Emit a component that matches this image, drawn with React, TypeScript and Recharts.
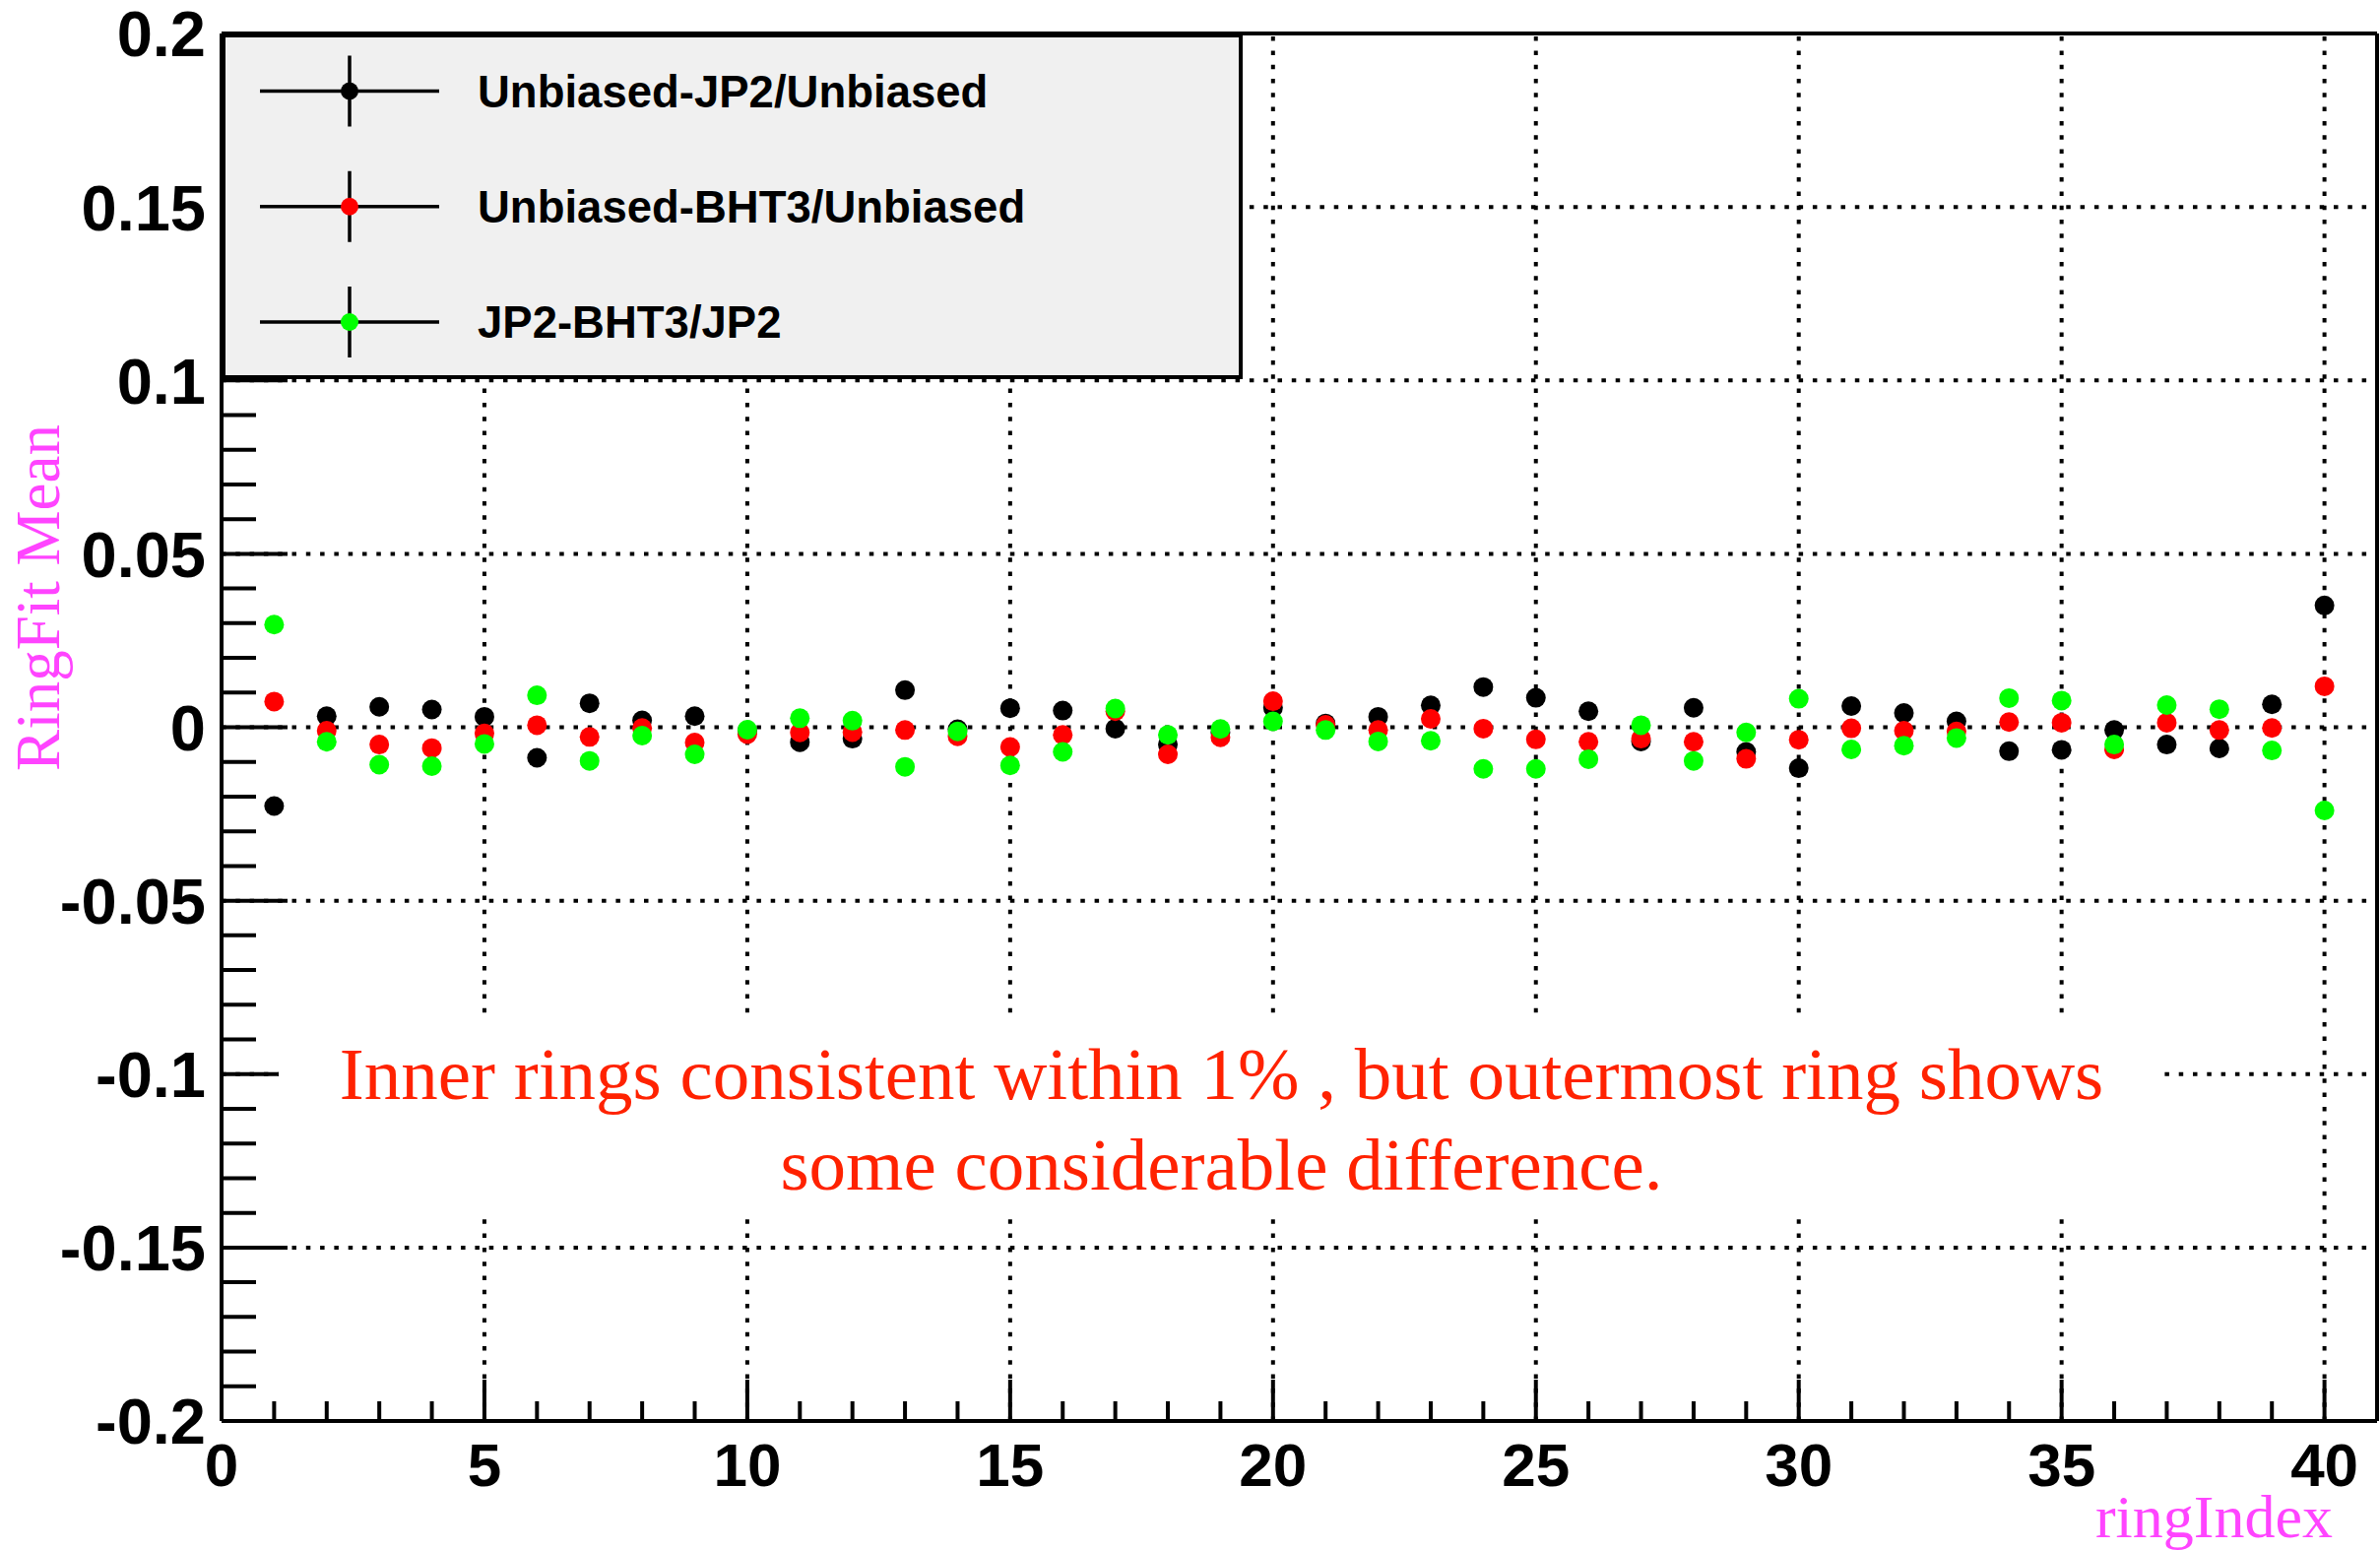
import React from 'react';
import { ScatterChart, Scatter, XAxis, YAxis, ReferenceLine, Legend } from 'recharts';

// ring index (x) and the three RingFit mean differences
const ringIndex = [1, 2, 3, 4, 5, 6, 7, 8, 9, 10, 11, 12, 13, 14, 15, 16, 17, 18, 19, 20, 21, 22, 23, 24, 25, 26, 27, 28, 29, 30, 31, 32, 33, 34, 35, 36, 37, 38, 39, 40];

const unbiasedJP2 = [
  -0.0227, 0.0032, 0.0059, 0.0051, 0.003, -0.0088, 0.0069, 0.002, 0.0032, -0.001,
  -0.0043, -0.0033, 0.0107, -0.0006, 0.0055, 0.0048, -0.0004, -0.005, -0.0015, 0.0056,
  0.0011, 0.003, 0.0063, 0.0116, 0.0085, 0.0046, -0.0041, 0.0056, -0.0071, -0.0118,
  0.0061, 0.0041, 0.0017, -0.0069, -0.0065, -0.0008, -0.005, -0.0061, 0.0066, 0.0351,
];

const unbiasedBHT3 = [
  0.0074, -0.001, -0.005, -0.006, -0.0018, 0.0006, -0.0028, -0.0002, -0.0044, -0.002,
  -0.0015, -0.0014, -0.0008, -0.0026, -0.0057, -0.0022, 0.0046, -0.0078, -0.0029, 0.0075,
  0.0007, -0.0008, 0.0024, -0.0004, -0.0035, -0.0042, -0.0033, -0.0042, -0.0091, -0.0036,
  -0.0003, -0.001, -0.0012, 0.0015, 0.0013, -0.0064, 0.0013, -0.0008, -0.0002, 0.0118,
];

const jp2BHT3 = [
  0.0296, -0.0042, -0.0108, -0.0112, -0.0048, 0.0092, -0.0097, -0.0024, -0.0078, -0.0007,
  0.0026, 0.0019, -0.0114, -0.0012, -0.011, -0.0071, 0.0054, -0.0022, -0.0005, 0.0017,
  -0.0008, -0.0041, -0.0039, -0.012, -0.012, -0.0092, 0.0006, -0.0097, -0.0015, 0.0082,
  -0.0064, -0.0053, -0.0031, 0.0084, 0.0077, -0.005, 0.0064, 0.0052, -0.0067, -0.024,
];

const seriesNames = ['Unbiased-JP2/Unbiased', 'Unbiased-BHT3/Unbiased', 'JP2-BHT3/JP2'];
const seriesColors = ['#000000', '#ff0000', '#00ff00'];

const xTicks = Array.from({ length: 41 }, (_, i) => i);
const xGrid = [5, 10, 15, 20, 25, 30, 35, 40];
const yTicks = Array.from({ length: 41 }, (_, i) => (i - 20) / 100);
const yGrid = [-0.15, -0.1, -0.05, 0, 0.05, 0.1, 0.15];

const annotation = [
  'Inner rings consistent within 1% , but outermost ring shows',
  'some considerable difference.',
];

const toPoints = (vals: number[]) => ringIndex.map((x, i) => ({ x, y: vals[i] }));
const series = [unbiasedJP2, unbiasedBHT3, jp2BHT3].map(toPoints);

const SANS = "'Liberation Sans', Arial, Helvetica, sans-serif";
const SERIF = "'Liberation Serif', 'Times New Roman', serif";
const MAGENTA = '#ff44ff';

function XTick(props: any) {
  const { x, y, payload } = props;
  const v = payload.value;
  const major = v % 5 === 0;
  return (
    <g>
      <line x1={x} x2={x} y1={y} y2={y - (major ? 42 : 20)} stroke="#000" strokeWidth={4} />
      {major && (
        <text x={x} y={y + 66} textAnchor="middle" fontFamily={SANS} fontWeight="bold" fontSize={62} fill="#000">
          {v}
        </text>
      )}
    </g>
  );
}

function YTick(props: any) {
  const { x, y, payload } = props;
  const k = Math.round(payload.value * 100);
  const major = k % 5 === 0;
  return (
    <g>
      <line x1={x} x2={x + (major ? 67 : 35)} y1={y} y2={y} stroke="#000" strokeWidth={4} />
      {major && (
        <text x={x - 16} y={y} dy="0.36em" textAnchor="end" fontFamily={SANS} fontWeight="bold" fontSize={65} fill="#000">
          {k / 100}
        </text>
      )}
    </g>
  );
}

// legend drawn in series order, ROOT style (cross marker + dot)
function LegendBox() {
  return (
    <svg width={1037} height={351} style={{ display: 'block' }}>
      <rect x={2} y={2} width={1033} height={347} fill="#f0f0f0" stroke="#000" strokeWidth={4} />
      {seriesNames.map((name, i) => {
        const cy = 58.5 + i * 117.25;
        return (
          <g key={name}>
            <line x1={39} x2={221} y1={cy} y2={cy} stroke="#000" strokeWidth={3.5} />
            <line x1={130} x2={130} y1={cy - 36} y2={cy + 36} stroke="#000" strokeWidth={3.5} />
            <circle cx={130} cy={cy} r={9} fill={seriesColors[i]} />
            <text x={260} y={cy + 16} fontFamily={SANS} fontWeight="bold" fontSize={45.5} fill="#000">
              {name}
            </text>
          </g>
        );
      })}
    </svg>
  );
}

const dot = (color: string) => (p: any) => <circle cx={p.cx} cy={p.cy} r={10} fill={color} />;

export default function App() {
  return (
    <div style={{ position: 'absolute', left: 0, top: 0, width: 2417, height: 1574, background: '#fff' }}>
      <ScatterChart width={2417} height={1574} margin={{ top: 34, right: 3, left: 25, bottom: 31 }}>
        <XAxis
          type="number"
          dataKey="x"
          domain={[0, 41]}
          ticks={xTicks}
          interval={0}
          tickLine={false}
          tickSize={0}
          tickMargin={0}
          height={100}
          axisLine={{ stroke: '#000', strokeWidth: 4 }}
          tick={(p: any) => <XTick {...p} />}
          label={() => (
            <text x={2369} y={1561} textAnchor="end" fontFamily={SERIF} fontSize={62} fill={MAGENTA}>
              ringIndex
            </text>
          )}
        />
        <YAxis
          type="number"
          dataKey="y"
          domain={[-0.2, 0.2]}
          ticks={yTicks}
          interval={0}
          tickLine={false}
          tickSize={0}
          tickMargin={0}
          width={200}
          axisLine={{ stroke: '#000', strokeWidth: 4 }}
          tick={(p: any) => <YTick {...p} />}
          label={() => (
            <text
              x={60}
              y={607}
              transform="rotate(-90 60 607)"
              textAnchor="middle"
              fontFamily={SERIF}
              fontSize={63}
              fill={MAGENTA}
            >
              RingFit Mean
            </text>
          )}
        />
        {xGrid.map((v) => (
          <ReferenceLine key={'gx' + v} x={v} stroke="#000" strokeWidth={4} strokeDasharray="4.5 9.8" />
        ))}
        {yGrid.map((v) => (
          <ReferenceLine key={'gy' + v} y={v} stroke="#000" strokeWidth={4} strokeDasharray="4.5 9.8" />
        ))}
        <ReferenceLine y={0.2} stroke="#000" strokeWidth={4} />
        <ReferenceLine x={41} stroke="#000" strokeWidth={4} />
        {series.map((pts, i) => (
          <Scatter
            key={seriesNames[i]}
            name={seriesNames[i]}
            data={pts}
            fill={seriesColors[i]}
            shape={dot(seriesColors[i])}
            isAnimationActive={false}
          />
        ))}
        <Legend
          layout="vertical"
          align="center"
          verticalAlign="middle"
          content={() => <LegendBox />}
          wrapperStyle={{ left: 225, top: 34, width: 1037, height: 351 }}
        />
      </ScatterChart>
      <div
        style={{
          position: 'absolute',
          left: 283,
          top: 1032,
          width: 1915,
          height: 205,
          background: '#fff',
          color: '#ff2200',
          fontFamily: SERIF,
          fontSize: 75,
          lineHeight: '92px',
          textAlign: 'center',
          paddingTop: 13,
          boxSizing: 'border-box',
          whiteSpace: 'nowrap',
        }}
      >
        {annotation.map((line) => (
          <div key={line}>{line}</div>
        ))}
      </div>
    </div>
  );
}
